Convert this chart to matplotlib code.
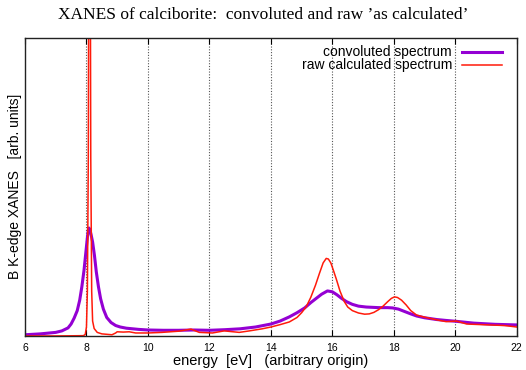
import numpy as np
import matplotlib
matplotlib.use('Agg')
import matplotlib.pyplot as plt

# convoluted spectrum
e_conv = [6.0, 6.5, 7.0, 7.2, 7.4, 7.5, 7.6, 7.7, 7.78, 7.85, 7.92, 7.98, 8.03, 8.06, 8.08,
          8.11, 8.15, 8.2, 8.26, 8.32, 8.39, 8.46, 8.55, 8.66, 8.8, 8.95, 9.1, 9.3, 9.7, 10.0,
          10.5, 11.0, 11.5, 12.0, 12.5, 13.0, 13.5, 14.0, 14.3, 14.6, 14.85, 15.1, 15.3, 15.5,
          15.65, 15.84, 16.0, 16.15, 16.3, 16.46, 16.65, 16.85, 17.1, 17.5, 17.8, 17.96, 18.15,
          18.35, 18.55, 18.74, 19.0, 19.4, 19.7, 20.04, 20.6, 21.3, 22.0]
i_conv = [0.004, 0.007, 0.012, 0.017, 0.027, 0.040, 0.060, 0.085, 0.12, 0.165, 0.22, 0.28,
          0.33, 0.355, 0.362, 0.357, 0.34, 0.315, 0.27, 0.215, 0.165, 0.125, 0.09, 0.062, 0.045,
          0.035, 0.030, 0.026, 0.022, 0.020, 0.019, 0.019, 0.020, 0.019, 0.021, 0.024, 0.030,
          0.040, 0.050, 0.064, 0.078, 0.094, 0.112, 0.128, 0.140, 0.151, 0.148, 0.138, 0.126,
          0.115, 0.106, 0.100, 0.097, 0.095, 0.095, 0.094, 0.090, 0.082, 0.074, 0.067, 0.061,
          0.055, 0.052, 0.049, 0.043, 0.039, 0.037]

# raw calculated spectrum
e_raw = [6.0, 7.0, 7.9, 7.96, 8.0, 8.03, 8.06, 8.08, 8.1, 8.12, 8.14, 8.17, 8.2, 8.25,
         8.35, 8.5, 8.83, 8.95, 9.0, 9.2, 9.39, 9.6, 10.0, 10.46, 11.0, 11.4, 11.67, 12.1,
         12.48, 12.97, 13.3, 13.72, 14.0, 14.3, 14.6, 14.85, 15.0, 15.15, 15.3, 15.45, 15.58,
         15.7, 15.8, 15.87, 15.95, 16.05, 16.13, 16.25, 16.39, 16.5, 16.65, 16.85, 17.05, 17.2,
         17.35, 17.5, 17.65, 17.8, 17.92, 18.02, 18.12, 18.25, 18.4, 18.55, 18.74, 19.0, 19.4,
         19.7, 20.04, 20.37, 21.1, 21.6, 22.0]
i_raw = [0.0, 0.0, 0.001, 0.005, 0.03, 0.15, 0.6, 1.5, 2.5, 1.5, 0.6, 0.15, 0.05, 0.025,
         0.012, 0.007, 0.004, 0.010, 0.014, 0.013, 0.014, 0.010, 0.010, 0.012, 0.016, 0.023,
         0.012, 0.010, 0.017, 0.012, 0.017, 0.024, 0.030, 0.038, 0.047, 0.062, 0.078, 0.098,
         0.13, 0.17, 0.21, 0.245, 0.26, 0.258, 0.245, 0.215, 0.19, 0.15, 0.115, 0.097, 0.085,
         0.077, 0.073, 0.074, 0.079, 0.088, 0.100, 0.115, 0.126, 0.131, 0.129, 0.12, 0.104,
         0.085, 0.070, 0.063, 0.054, 0.048, 0.050, 0.040, 0.037, 0.035, 0.030]

xticks = [6, 8, 10, 12, 14, 16, 18, 20, 22]

fig = plt.figure(figsize=(5.26, 3.70), dpi=100)
ax = fig.add_axes([0.0475, 0.092, 0.935, 0.806])

ax.plot(e_conv, i_conv, color='#9400d3', lw=2.2, solid_joinstyle='round')
ax.plot(e_raw, i_raw, color='#ff1a0a', lw=1.1, solid_joinstyle='round')

ax.set_xlim(6, 22)
ax.set_ylim(0, 1.0)
ax.set_xticks(xticks)
ax.set_xticklabels([str(t) for t in xticks], fontsize=7.5, family='Liberation Sans')
ax.set_yticks([])
ax.tick_params(axis='x', direction='in', length=4, top=True, pad=5)
for x in xticks[1:-1]:
    ax.axvline(x, color='#555555', lw=0.8, ls=(0, (1, 1.5)), zorder=0)
for s in ax.spines.values():
    s.set_linewidth(1.0)
    s.set_color('#222222')

ax.set_xlabel('energy  [eV]   (arbitrary origin)', fontsize=10.5, family='Liberation Sans', labelpad=1)
ax.set_ylabel('B K-edge XANES   [arb. units]', fontsize=10, family='Liberation Sans', labelpad=2)
fig.suptitle("XANES of calciborite:  convoluted and raw \u2019as calculated\u2019", y=0.98,
             fontsize=12.5, family='Liberation Serif')

# gnuplot-style key: right-aligned text, sample line on the right
ax.text(0.868, 0.953, 'convoluted spectrum', transform=ax.transAxes, ha='right', va='center',
        fontsize=10, family='Liberation Sans')
ax.text(0.868, 0.91, 'raw calculated spectrum', transform=ax.transAxes, ha='right', va='center',
        fontsize=10, family='Liberation Sans')
ax.plot([0.888, 0.97], [0.953, 0.953], transform=ax.transAxes, color='#9400d3', lw=2.2)
ax.plot([0.888, 0.97], [0.91, 0.91], transform=ax.transAxes, color='#ff1a0a', lw=1.1)

plt.savefig('out.png', dpi=100)
